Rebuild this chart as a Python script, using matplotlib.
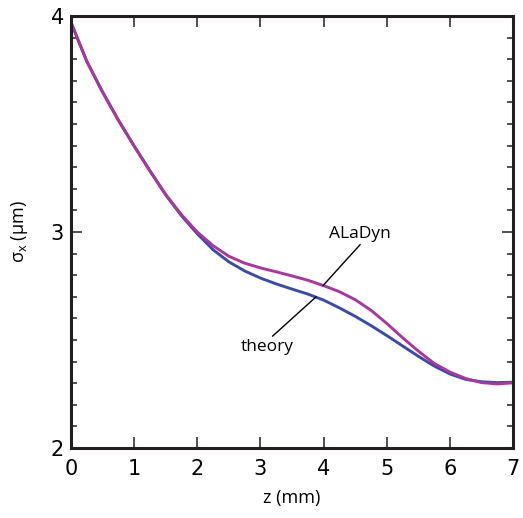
import matplotlib.pyplot as plt
from matplotlib.ticker import MultipleLocator

# z positions (mm) and beam size (um)
z = [0, 0.25, 0.5, 0.75, 1.0, 1.25, 1.5, 1.75, 2.0, 2.25, 2.5, 2.75, 3.0, 3.25,
     3.5, 3.75, 4.0, 4.25, 4.5, 4.75, 5.0, 5.25, 5.5, 5.75, 6.0, 6.25, 6.5,
     6.75, 7.0]
theory = [3.97, 3.79, 3.648, 3.518, 3.398, 3.283, 3.172, 3.075, 2.992, 2.918,
          2.862, 2.82, 2.787, 2.76, 2.736, 2.713, 2.685, 2.649, 2.61, 2.567,
          2.521, 2.473, 2.425, 2.38, 2.343, 2.318, 2.307, 2.303, 2.305]
aladyn = [3.97, 3.79, 3.648, 3.518, 3.398, 3.283, 3.174, 3.08, 3.0, 2.937,
          2.888, 2.856, 2.834, 2.816, 2.797, 2.777, 2.752, 2.724, 2.687, 2.638,
          2.577, 2.511, 2.449, 2.392, 2.352, 2.322, 2.303, 2.297, 2.302]

xTicks = [0, 1, 2, 3, 4, 5, 6, 7]
yTicks = [2, 3, 4]

textFont = ['Open Sans', 'DejaVu Sans']

fig = plt.figure(figsize=(5.23, 5.18), dpi=100)
ax = fig.add_axes([0.1358, 0.135, 0.8452, 0.834])

ax.plot(z, theory, color='#3a4ca8', lw=2.1, solid_capstyle='round')
ax.plot(z, aladyn, color='#a8379e', lw=2.1, solid_capstyle='round')

ax.set_xlim(0, 7)
ax.set_ylim(2, 4)
ax.set_xticks(xTicks)
ax.set_yticks(yTicks)
ax.yaxis.set_minor_locator(MultipleLocator(0.1))

for side in ['left', 'right', 'top', 'bottom']:
    ax.spines[side].set_linewidth(2.2)
    ax.spines[side].set_color('#231f20')

ax.tick_params(axis='both', which='major', direction='in', length=8, width=1.1,
               color='#231f20', labelsize=15, top=True, right=True)
ax.tick_params(axis='x', which='major', pad=8)
ax.tick_params(axis='y', which='major', pad=5)
ax.tick_params(axis='y', which='minor', direction='in', length=4.5, width=1.1,
               color='#231f20', right=True, left=True)

ax.set_xlabel('z (mm)', family=textFont, fontsize=13, labelpad=7)
ax.set_ylabel(r'σ$_\mathregular{x}$ (μm)', family=textFont, fontsize=13,
              labelpad=15)

ax.annotate('ALaDyn', xy=(3.99, 2.752), xytext=(4.57, 2.955),
            family=textFont, fontsize=12.5, ha='center', va='bottom',
            arrowprops=dict(arrowstyle='-', color='black', lw=1,
                            shrinkA=0, shrinkB=0, relpos=(0.55, 0.0)))
ax.annotate('theory', xy=(3.88, 2.70), xytext=(3.10, 2.468),
            family=textFont, fontsize=12.5, ha='center', va='center',
            arrowprops=dict(arrowstyle='-', color='black', lw=1,
                            shrinkA=0, shrinkB=0, relpos=(0.55, 1.0)))

plt.savefig('out.png', dpi=100)
